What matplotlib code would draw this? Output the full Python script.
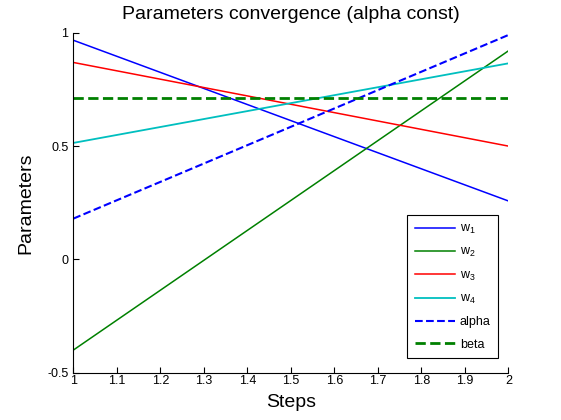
import matplotlib
matplotlib.use("Agg")
import matplotlib.pyplot as plt

plt.rcParams['font.family'] = ['Liberation Sans', 'DejaVu Sans']
plt.rcParams['mathtext.fontset'] = 'custom'
plt.rcParams['mathtext.rm'] = 'Liberation Sans'
plt.rcParams['mathtext.it'] = 'Liberation Sans'

steps = [1, 2]
w1 = [0.967, 0.258]
w2 = [-0.400, 0.920]
w3 = [0.869, 0.500]
w4 = [0.514, 0.865]
alpha = [0.180, 0.990]
beta = [0.710, 0.710]

labels = ['w$_1$', 'w$_2$', 'w$_3$', 'w$_4$', 'alpha', 'beta']
colors = ['#0000ff', '#008000', '#ff0000', '#00bfbf', '#0000ff', '#008000']
styles = ['-', '-', '-', '-', '--', '--']
widths = [1.1, 1.1, 1.1, 1.3, 1.5, 2.0]
series = [w1, w2, w3, w4, alpha, beta]

fig = plt.figure(figsize=(5.61, 4.2), dpi=100)
ax = fig.add_axes([0.1307, 0.1125, 0.7754, 0.8095])
for s, lab, c, ls, lw in zip(series, labels, colors, styles, widths):
    ax.plot(steps, s, color=c, linestyle=ls, linewidth=lw, label=lab)

ax.set_xlim(1, 2)
ax.set_ylim(-0.5, 1)
ax.set_xticks([1, 1.1, 1.2, 1.3, 1.4, 1.5, 1.6, 1.7, 1.8, 1.9, 2])
ax.set_xticklabels(['1', '1.1', '1.2', '1.3', '1.4', '1.5', '1.6', '1.7', '1.8', '1.9', '2'])
ax.set_yticks([-0.5, 0, 0.5, 1])
ax.set_yticklabels(['-0.5', '0', '0.5', '1'])
ax.spines['top'].set_visible(False)
ax.spines['right'].set_visible(False)
ax.tick_params(direction='in', length=4, width=0.8, labelsize=9)
ax.tick_params(axis='x', pad=1.5)
ax.tick_params(axis='y', pad=3.5)
ax.set_title('Parameters convergence (alpha const)', fontsize=14, pad=10)
ax.set_xlabel('Steps', fontsize=14, labelpad=5)
ax.set_ylabel('Parameters', fontsize=14, labelpad=9)

leg = ax.legend(loc='lower right', bbox_to_anchor=(0.977, 0.043), fontsize=9,
                frameon=True, fancybox=False, edgecolor='black', framealpha=1,
                handlelength=3.2, handletextpad=0.4, labelspacing=0.82,
                borderpad=0.6, borderaxespad=0)
leg.get_frame().set_linewidth(0.8)

fig.savefig('out.png', dpi=100)
